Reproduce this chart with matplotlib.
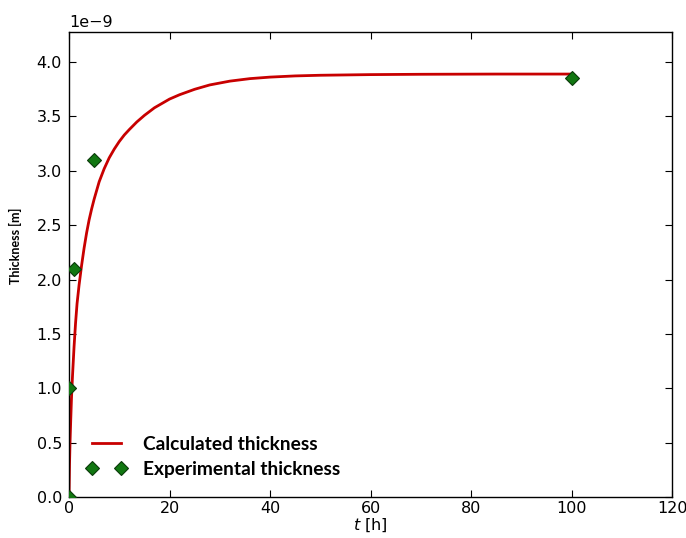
import matplotlib
matplotlib.use("Agg")
import matplotlib.pyplot as plt
from matplotlib.lines import Line2D
from matplotlib.legend_handler import HandlerLine2D

# calculated curve (t in h, thickness in 1e-9 m)
calc_t = [0, 0.05, 0.1, 0.2, 0.35, 0.5, 0.7, 1.0, 1.3, 1.6, 2.0, 2.5, 3.0, 3.5,
          4.0, 4.5, 5.0, 6.0, 7.0, 8.0, 9.0, 10.0, 11.0, 12.0, 13.5, 15.0, 17.0,
          20.0, 22.0, 25.0, 28.0, 32.0, 36.0, 40.0, 45.0, 50.0, 60.0, 70.0, 85.0, 100.0]
calc_thk = [0.0, 0.15, 0.3, 0.5, 0.72, 0.92, 1.12, 1.38, 1.6, 1.78, 1.95, 2.13, 2.29, 2.43,
            2.55, 2.65, 2.74, 2.9, 3.02, 3.12, 3.2, 3.27, 3.33, 3.38, 3.45, 3.51, 3.58,
            3.66, 3.7, 3.75, 3.79, 3.825, 3.848, 3.862, 3.873, 3.879, 3.885, 3.888, 3.89, 3.89]

# experimental points
exp_t = [0, 0, 1, 5, 100]
exp_thk = [0.0, 1.0, 2.1, 3.1, 3.85]

plt.rcParams['xtick.direction'] = 'in'
plt.rcParams['ytick.direction'] = 'in'
plt.rcParams['xtick.top'] = True
plt.rcParams['ytick.right'] = True

fig = plt.figure(figsize=(6.86, 5.38), dpi=100)
ax = fig.add_axes([0.1006, 0.0757, 0.8790, 0.8655])

ax.plot(calc_t, [v * 1e-9 for v in calc_thk], color='#c80000', linewidth=2,
        label='Calculated thickness', zorder=2)
ax.plot(exp_t, [v * 1e-9 for v in exp_thk], linestyle='none', marker='D',
        markersize=7, markerfacecolor='#117711', markeredgecolor='#0a3a0a',
        markeredgewidth=0.8, label='Experimental thickness', zorder=3)

ax.set_xlim(0, 120)
ax.set_ylim(0, 4.28e-9)
ax.set_xticks([0, 20, 40, 60, 80, 100, 120])
ax.set_yticks([i * 0.5e-9 for i in range(9)])
ax.tick_params(labelsize=11.5, length=5, width=0.8)
ax.tick_params(axis='x', pad=3)
ax.tick_params(axis='y', pad=5)
for s in ax.spines.values():
    s.set_linewidth(1.0)

ax.set_xlabel('$t$ [h]', fontsize=11.5, labelpad=0)
ax.set_ylabel('Thickness [m]', fontsize=9, fontweight='bold', family='Lato')
ax.yaxis.set_label_coords(-0.078, 0.54)
ax.yaxis.get_offset_text().set_fontsize(11.5)

leg = ax.legend(loc='lower left', bbox_to_anchor=(0.008, 0.005), frameon=False,
                numpoints=2, handlelength=1.6, handletextpad=1.1, labelspacing=0.4,
                handler_map={Line2D: HandlerLine2D(marker_pad=0.05)},
                prop={'family': 'Lato', 'weight': 'bold', 'size': 13.75})

fig.savefig('out.png', dpi=100)
